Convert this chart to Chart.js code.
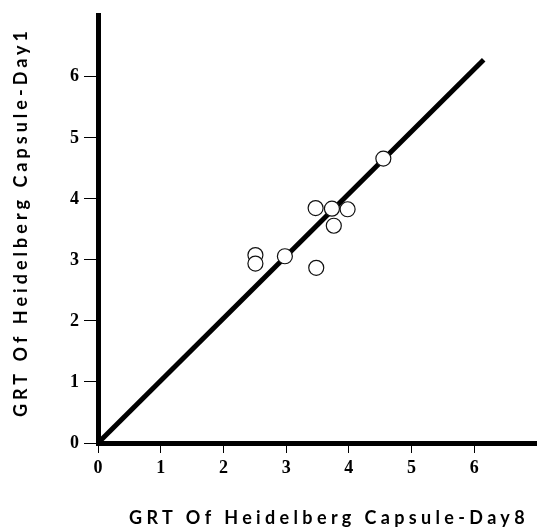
<!DOCTYPE html>
<html>
<head>
<meta charset="utf-8">
<script src="https://cdn.jsdelivr.net/npm/chart.js@4/dist/chart.umd.min.js"></script>
<style>
  html, body { margin: 0; padding: 0; background: #fff; }
  #wrap { width: 537px; height: 529px; }
</style>
</head>
<body>
<div id="wrap"><canvas id="c" width="537" height="529"></canvas></div>
<script>
// values
const day8 = [2.51, 2.51, 2.98, 3.47, 3.48, 3.73, 3.76, 3.98, 4.55];
const day1 = [3.08, 2.94, 3.06, 3.85, 2.87, 3.84, 3.56, 3.83, 4.66];
const lineX = [0, 6.15];
const lineY = [0, 6.28];
const tickValues = [0, 1, 2, 3, 4, 5, 6];
const xTitle = "GRT Of Heidelberg Capsule-Day8";
const yTitle = "GRT Of Heidelberg Capsule-Day1";

const points = day8.map((x, i) => ({ x, y: day1[i] }));
const identity = lineX.map((x, i) => ({ x, y: lineY[i] }));

// spread a title out to a given length, like the wide spacing in the scan
function spacedText(ctx, text, x, y, len) {
  ctx.letterSpacing = "0px";
  const w = ctx.measureText(text).width;
  ctx.letterSpacing = ((len - w) / text.length) + "px";
  ctx.fillText(text, x, y);
}

const titles = {
  id: "titles",
  afterDraw(chart) {
    const ctx = chart.ctx;
    ctx.save();
    ctx.fillStyle = "#000";
    ctx.font = "bold 18px Lato";
    ctx.textAlign = "center";
    ctx.textBaseline = "middle";
    spacedText(ctx, xTitle, 329, 518, 400);
    ctx.translate(21, 222);
    ctx.rotate(-Math.PI / 2);
    spacedText(ctx, yTitle, 0, 0, 390);
    ctx.restore();
  }
};

const keepTicks = axis => {
  axis.ticks = axis.ticks.filter(t => tickValues.includes(t.value));
};

new Chart(document.getElementById("c"), {
  type: "scatter",
  data: {
    datasets: [
      {
        data: points,
        order: 1,
        pointStyle: "circle",
        pointRadius: 7.5,
        pointBackgroundColor: "#fff",
        pointBorderColor: "#111",
        pointBorderWidth: 1.2
      },
      {
        data: identity,
        order: 2,
        showLine: true,
        pointRadius: 0,
        borderColor: "#000",
        borderWidth: 5
      }
    ]
  },
  options: {
    responsive: false,
    animation: false,
    layout: { autoPadding: false, padding: { top: 12, right: 0, left: 0, bottom: 0 } },
    plugins: { legend: { display: false }, tooltip: { enabled: false } },
    scales: {
      x: {
        type: "linear",
        min: 0, max: 7,
        afterFit: s => { s.height = 86; },
        afterBuildTicks: keepTicks,
        border: { color: "#000", width: 5 },
        grid: { drawOnChartArea: false, color: "#000", lineWidth: 1, tickLength: 10 },
        ticks: {
          stepSize: 1, padding: 5, color: "#000",
          font: { family: "Liberation Serif", weight: "bold", size: 18 }
        }
      },
      y: {
        type: "linear",
        min: 0, max: 7,
        afterFit: s => { s.width = 98; },
        afterBuildTicks: keepTicks,
        border: { color: "#000", width: 5 },
        grid: { drawOnChartArea: false, color: "#000", lineWidth: 1, tickLength: 14 },
        ticks: {
          stepSize: 1, padding: 5, color: "#000",
          font: { family: "Liberation Serif", weight: "bold", size: 18 }
        }
      }
    }
  },
  plugins: [titles]
});
</script>
</body>
</html>
